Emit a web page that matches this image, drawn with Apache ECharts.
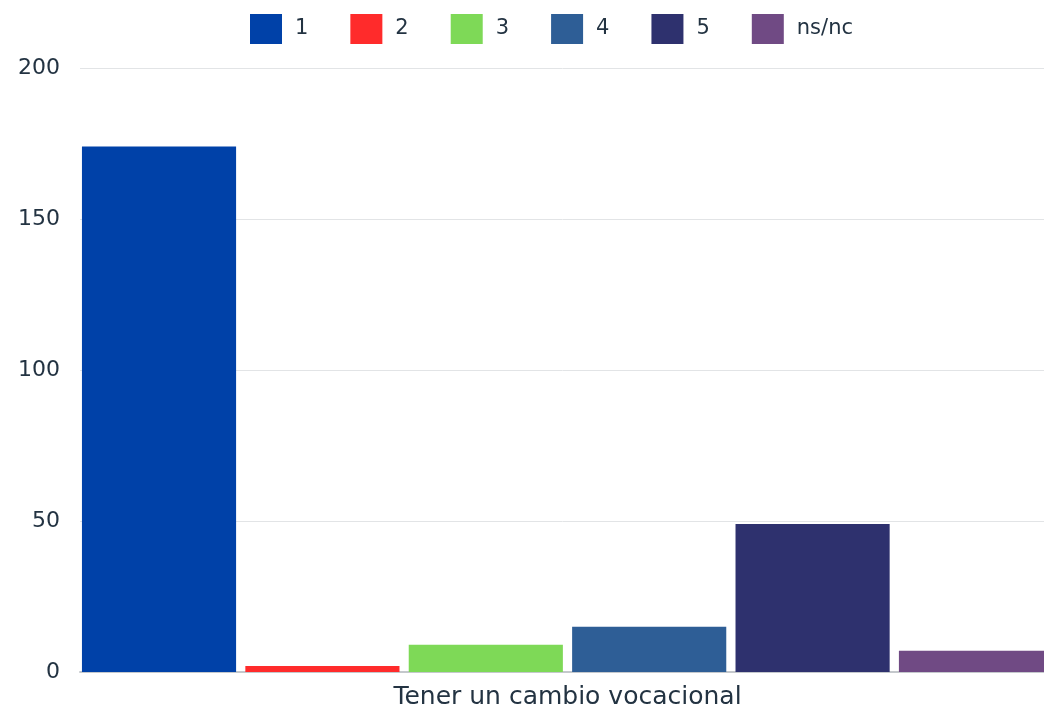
<!DOCTYPE html>
<html>
<head>
<meta charset="utf-8">
<script src="https://cdn.jsdelivr.net/npm/echarts@6/dist/echarts.min.js"></script>
<style>
  html, body { margin: 0; padding: 0; background: #fff; }
</style>
</head>
<body>
<div id="chart" style="width: 1044px;height:713px;"></div>
<script>
// 数据
var categories = ['Tener un cambio vocacional'];
var seriesNames = ['1', '2', '3', '4', '5', 'ns/nc'];
var seriesValues = [174, 2, 9, 15, 49, 7];
var yTicks = [0, 50, 100, 150, 200];

var colors = ['#0041a8', '#ff2b2b', '#7ed957', '#2e5e96', '#2e316e', '#704a84'];
var fontColor = '#233342';

var myChart = echarts.init(document.getElementById('chart'));

var series = seriesNames.map(function (name, i) {
  return {
    name: name,
    type: 'bar',
    barGap: '6%',
    barCategoryGap: '0.4%',
    itemStyle: { color: colors[i] },
    data: [seriesValues[i]]
  };
});

var option = {
  color: colors,
  textStyle: { fontFamily: 'DejaVu Sans' },
  // 图例
  legend: {
    top: 9,
    left: 245,
    itemWidth: 32,
    itemHeight: 30,
    itemGap: 42,
    icon: 'rect',
    textStyle: { color: fontColor, fontSize: 21, padding: [0, 0, 0, 8] },
    data: seriesNames
  },
  // 网格
  grid: {
    left: 80,
    width: 975,
    top: 68,
    bottom: 41,
    outerBoundsMode: 'none'
  },
  xAxis: {
    type: 'category',
    data: categories,
    axisTick: { show: false },
    axisLine: { lineStyle: { color: '#c4c8cc', width: 2 } },
    axisLabel: { color: fontColor, fontSize: 25, margin: 13 }
  },
  yAxis: {
    type: 'value',
    min: yTicks[0],
    max: yTicks[yTicks.length - 1],
    interval: 50,
    axisLine: { show: false },
    axisTick: { show: false },
    axisLabel: { color: fontColor, fontSize: 22, margin: 20 },
    splitLine: { lineStyle: { color: '#e2e4e6', width: 1 } }
  },
  series: series
};

myChart.setOption(option);
</script>
</body>
</html>
